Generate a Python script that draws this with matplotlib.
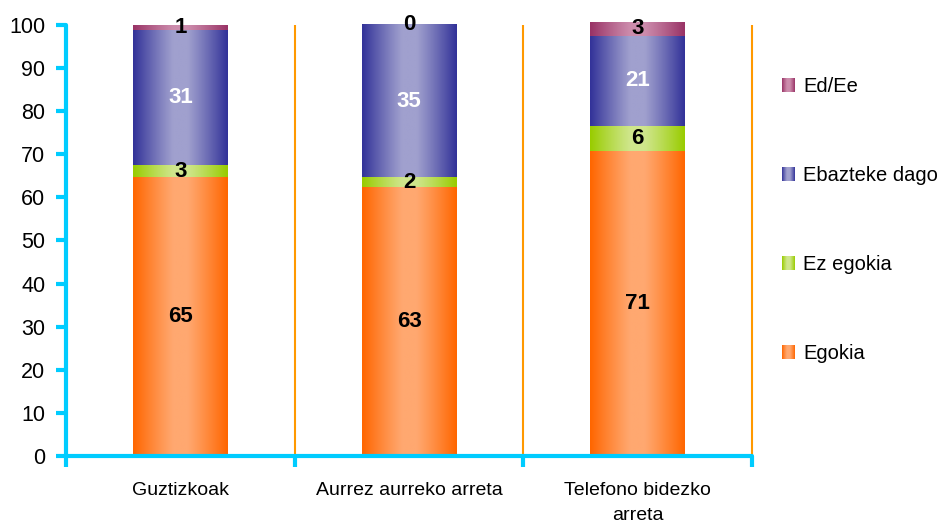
import numpy as np
import matplotlib
matplotlib.use('Agg')
import matplotlib.pyplot as plt
import matplotlib.colors as mcolors
from matplotlib.patches import Rectangle
from matplotlib.legend_handler import HandlerBase

plt.rcParams['font.family'] = ['Liberation Sans', 'DejaVu Sans']

# data
categories = ['Guztizkoak', 'Aurrez aurreko arreta', 'Telefono bidezko\narreta']
series = ['Egokia', 'Ez egokia', 'Ebazteke dago', 'Ed/Ee']
egokia = [64.7, 62.4, 70.8]
ez_egokia = [2.8, 2.3, 5.8]
ebazteke = [31.4, 35.3, 20.9]
ed_ee = [1.1, 0.0, 3.2]
lbl_egokia = [65, 63, 71]
lbl_ez_egokia = [3, 2, 6]
lbl_ebazteke = [31, 35, 21]
lbl_ed_ee = [1, 0, 3]

# (edge colour, centre colour, label colour)
styles = [('#FF6600', '#FFA870', 'black'),
          ('#99CC00', '#CFE68C', 'black'),
          ('#333399', '#A0A0CE', 'white'),
          ('#993366', '#CC8CAC', 'black')]


def shade(edge, center, t):
    e = np.array(mcolors.to_rgb(edge))
    c = np.array(mcolors.to_rgb(center))
    d = np.abs(t - 0.5) / 0.5
    w = np.clip((d - 0.15) / 0.85, 0, 1) ** 1.1
    return c[None, :] * (1 - w[:, None]) + e[None, :] * w[:, None]


class GradHandler(HandlerBase):
    def __init__(self, edge, center):
        super().__init__()
        self.edge = edge
        self.center = center

    def create_artists(self, legend, orig_handle, xdescent, ydescent,
                       width, height, fontsize, trans):
        n = 12
        cols = shade(self.edge, self.center, (np.arange(n) + 0.5) / n)
        arts = []
        for i in range(n):
            r = Rectangle((-xdescent + i * width / n, -ydescent),
                          width / n * 1.08, height, facecolor=cols[i],
                          edgecolor='none', transform=trans)
            arts.append(r)
        return arts


fig = plt.figure(figsize=(9.52, 5.29), dpi=100)
ax = fig.add_axes([66 / 952, 1 - 456 / 529, (752 - 66) / 952, (456 - 25) / 529])

x = np.arange(len(categories))
bottom = np.zeros(len(categories))
grad_t = np.linspace(0, 1, 80)
all_vals = [egokia, ez_egokia, ebazteke, ed_ee]
all_lbls = [lbl_egokia, lbl_ez_egokia, lbl_ebazteke, lbl_ed_ee]
for vals, lbls, (edge, center, tcol) in zip(all_vals, all_lbls, styles):
    vals = np.array(vals)
    bars = ax.bar(x, vals, 0.415, bottom=bottom, color='none', clip_on=False)
    img = shade(edge, center, grad_t)[None, :, :]
    for rect, lab, b, v, xi in zip(bars, lbls, bottom, vals, x):
        x0, y0 = rect.get_x(), rect.get_y()
        w, h = rect.get_width(), rect.get_height()
        if h > 0:
            ax.imshow(img, extent=[x0, x0 + w, y0, y0 + h], aspect='auto',
                      interpolation='bilinear', zorder=2, clip_on=False)
        ax.text(xi, b + v / 2, str(lab), ha='center', va='center',
                fontsize=16, fontweight='bold', color=tcol, zorder=5)
    bottom += vals

ax.vlines([0.5, 1.5, 2.5], 0, 100, color='#FF9900', lw=1.5, zorder=1,
          clip_on=False)

ax.set_xlim(-0.5, 2.5)
ax.set_ylim(0, 100)
ax.set_aspect('auto')
for s in ['top', 'right']:
    ax.spines[s].set_visible(False)
for s in ['left', 'bottom']:
    ax.spines[s].set_color('#00CCFF')
    ax.spines[s].set_linewidth(3)
    ax.spines[s].set_capstyle('round')

ax.set_yticks(np.arange(0, 101, 10))
ax.tick_params(axis='y', length=7, width=3, color='#00CCFF', labelsize=15.5,
               pad=8, labelcolor='black')
ax.set_xticks([-0.5, 0.5, 1.5, 2.5])
ax.set_xticklabels([])
ax.set_xticks(x, minor=True)
ax.set_xticklabels(categories, minor=True, fontsize=14, linespacing=1.6)
ax.tick_params(axis='x', which='major', length=8, width=3, color='#00CCFF')
ax.tick_params(axis='x', which='minor', length=0, pad=19)
for lab in ax.get_xticklabels(minor=True):
    lab.set_verticalalignment('top')

handles = [Rectangle((0, 0), 1, 1) for _ in series]
hmap = {h: GradHandler(st[0], st[1]) for h, st in zip(handles, styles)}
ax.legend(handles[::-1], series[::-1], handler_map=hmap,
          loc='center left', bbox_to_anchor=(782 / 952, 1 - 220 / 529),
          bbox_transform=fig.transFigure, frameon=False, fontsize=14.5,
          handlelength=0.65, handleheight=0.65, handletextpad=0.4,
          labelspacing=3.48, borderpad=0, borderaxespad=0)

fig.savefig('out.png', dpi=100)
